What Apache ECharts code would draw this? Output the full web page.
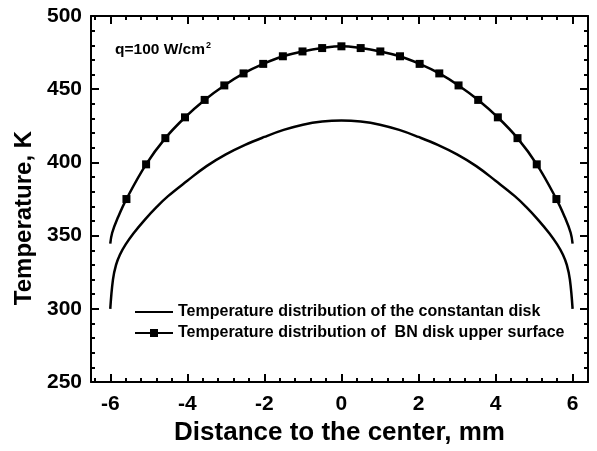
<!DOCTYPE html>
<html>
<head>
<meta charset="utf-8">
<script src="https://cdn.jsdelivr.net/npm/echarts@6/dist/echarts.min.js"></script>
<style>html,body{margin:0;padding:0;background:#fff;}#chart{width:597px;height:451px;}</style>
</head>
<body>
<div id="chart"></div>
<script>
// ---- data ----
const xTickLabels = [-6, -4, -2, 0, 2, 4, 6];
const xMinorTicks = [-6.4, -5.6, -5.2, -4.8, -4.4, -3.6, -3.2, -2.8, -2.4, -1.6, -1.2, -0.8, -0.4,
                     0.4, 0.8, 1.2, 1.6, 2.4, 2.8, 3.2, 3.6, 4.4, 4.8, 5.2, 5.6, 6.4];
const yTicks = [250, 300, 350, 400, 450, 500];

const constantanX = [-6.0, -5.93, -5.85, -5.75, -5.6, -5.4, -5.1, -4.8, -4.5, -4.0, -3.5, -3.0, -2.5, -2.0, -1.5, -1.0, -0.5, 0,
                     0.5, 1.0, 1.5, 2.0, 2.5, 3.0, 3.5, 4.0, 4.5, 4.8, 5.1, 5.4, 5.6, 5.75, 5.85, 5.93, 6.0];
const constantanT = [300, 320, 330, 337, 344, 351.5, 361, 369.5, 377, 387.5, 397.5, 405.5, 412, 417.4, 422.2, 425.8, 427.9, 428.6,
                     427.9, 425.8, 422.2, 417.4, 412, 405.5, 397.5, 387.5, 377, 369.5, 361, 351.5, 344, 337, 330, 320, 300];

const bnX = [-6.0, -5.95, -5.8, -5.58, -5.07, -4.57, -4.06, -3.55, -3.04, -2.54, -2.03, -1.52, -1.01, -0.5, 0,
             0.5, 1.01, 1.52, 2.03, 2.54, 3.04, 3.55, 4.06, 4.57, 5.07, 5.58, 5.8, 5.95, 6.0];
const bnT = [344.5, 352, 362.5, 375, 398.7, 416.6, 430.8, 442.7, 452.6, 460.8, 467.3, 472.5, 475.8, 478.1, 479.3,
             478.1, 475.8, 472.5, 467.3, 460.8, 452.6, 442.7, 430.8, 416.6, 398.7, 375, 362.5, 352, 344.5];
const bnMarkerX = [-5.58, -5.07, -4.57, -4.06, -3.55, -3.04, -2.54, -2.03, -1.52, -1.01, -0.5, 0,
                   0.5, 1.01, 1.52, 2.03, 2.54, 3.04, 3.55, 4.06, 4.57, 5.07, 5.58];

const seriesNames = ['Temperature distribution of the constantan disk',
                     'Temperature distribution of  BN disk upper surface'];
const xTitle = 'Distance to the center, mm';
const yTitle = 'Temperature, K';
// ---------------------------------------

const FONT = "'Liberation Sans', Arial, sans-serif";
const xMin = -6.5, xMax = 6.4;

const constantanData = constantanX.map((x, i) => [x, constantanT[i]]);
const bnData = bnX.map((x, i) => bnMarkerX.indexOf(x) >= 0 ? [x, bnT[i]] : { value: [x, bnT[i]], symbol: 'none' });

const lineBlack = { color: '#000', width: 2 };

function xAx(pos, major, withLabels) {
  return {
    type: 'value', min: xMin, max: xMax, position: pos, gridIndex: 0,
    axisLine: { show: major, onZero: false, lineStyle: lineBlack },
    axisTick: { show: true, inside: true, length: major ? 8 : 4,
                customValues: major ? xTickLabels : xMinorTicks, lineStyle: lineBlack },
    axisLabel: withLabels ? { show: true, customValues: xTickLabels, color: '#000', fontFamily: FONT,
                              fontWeight: 'bold', fontSize: 21, margin: 12 } : { show: false },
    splitLine: { show: false },
    name: withLabels ? xTitle : '',
    nameLocation: 'middle', nameGap: 35,
    nameTextStyle: { color: '#000', fontFamily: FONT, fontWeight: 'bold', fontSize: 26 }
  };
}
function yAx(pos, withLabels) {
  return {
    type: 'value', min: 250, max: 500, interval: 50, position: pos,
    axisLine: { show: true, onZero: false, lineStyle: lineBlack },
    axisTick: { show: true, inside: true, length: 8, lineStyle: lineBlack },
    minorTick: { show: true, splitNumber: 5, length: 4, lineStyle: lineBlack },
    axisLabel: withLabels ? { show: true, color: '#000', fontFamily: FONT, fontWeight: 'bold', fontSize: 21, margin: 9 } : { show: false },
    splitLine: { show: false },
    name: withLabels ? yTitle : '',
    nameLocation: 'middle', nameGap: 54,
    nameTextStyle: { color: '#000', fontFamily: FONT, fontWeight: 'bold', fontSize: 24, padding: [0, 38, 0, 0] }
  };
}

const chart = echarts.init(document.getElementById('chart'), null, { renderer: 'canvas' });
chart.setOption({
  backgroundColor: '#fff',
  animation: false,
  title: {
    text: '{a|q=100 W/cm}{s|2}',
    left: 110, top: 36,
    textStyle: {
      rich: {
        a: { fontFamily: FONT, fontWeight: 'bold', fontSize: 15.5, color: '#000', lineHeight: 18 },
        s: { fontFamily: FONT, fontWeight: 'bold', fontSize: 9, color: '#000', verticalAlign: 'top', lineHeight: 18, padding: [0, 0, 8, 1] }
      }
    }
  },
  grid: { left: 91, right: 9, top: 16, bottom: 65, containLabel: false },
  xAxis: [xAx('bottom', true, true), xAx('bottom', false, false), xAx('top', true, false), xAx('top', false, false)],
  yAxis: [yAx('left', true), yAx('right', false)],
  legend: {
    orient: 'vertical', left: 129, top: 299,
    itemWidth: 38, itemHeight: 10, itemGap: 5,
    textStyle: { color: '#000', fontFamily: FONT, fontWeight: 'bold', fontSize: 16, lineHeight: 16 },
    data: [
      { name: seriesNames[0], itemStyle: { color: 'rgba(0,0,0,0)', borderWidth: 0, opacity: 0 } },
      { name: seriesNames[1] }
    ]
  },
  series: [
    {
      name: seriesNames[0], type: 'line', xAxisIndex: 0, yAxisIndex: 0,
      data: constantanData, symbol: 'none', smooth: 0.4,
      lineStyle: { color: '#000', width: 2.5 }, itemStyle: { color: '#000' }
    },
    {
      name: seriesNames[1], type: 'line', xAxisIndex: 0, yAxisIndex: 0,
      data: bnData, symbol: 'rect', symbolSize: 8, showAllSymbol: true, smooth: 0.4,
      lineStyle: { color: '#000', width: 2.5 }, itemStyle: { color: '#000' }
    }
  ]
});
</script>
</body>
</html>
